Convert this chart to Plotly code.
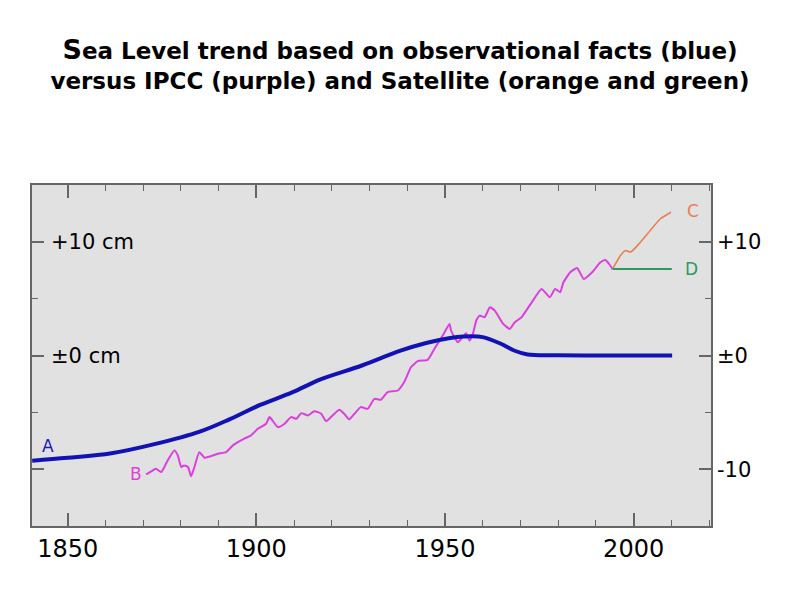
import plotly.graph_objects as go

# Observational (blue) curve A
obs_years = [1840.6, 1850, 1861.6, 1873.0, 1885.0, 1893.0, 1901.0, 1909.5, 1917.0, 1928.0,
             1938.0, 1945.0, 1951.0, 1955.0, 1960.0, 1964.8, 1968.3, 1971.9, 1980, 1990, 2000, 2010.2]
obs_vals = [-9.25, -9.0, -8.6, -7.8, -6.7, -5.6, -4.35, -3.25, -2.1, -0.88,
            0.4, 1.1, 1.52, 1.67, 1.62, 1.03, 0.44, 0.09, 0.02, 0.0, 0.0, 0.0]

# IPCC (purple) curve B
ipcc_years = [1870.8, 1872.6, 1873.4, 1874.8, 1876.5, 1878.3, 1879.2, 1880.1, 1880.9, 1881.9,
              1882.7, 1883.6, 1884.9, 1886.3, 1889.8, 1892.0, 1893.8, 1896.8, 1898.6, 1900.4,
              1902.6, 1903.5, 1905.7, 1907.5, 1909.2, 1910.6, 1911.9, 1913.7, 1915.4, 1917.2,
              1918.5, 1920.2, 1922.0, 1923.3, 1924.6, 1926.0, 1927.7, 1929.5, 1931.3, 1933.0,
              1934.8, 1937.5, 1939.2, 1941.0, 1942.8, 1945.4, 1947.2, 1949.4, 1951.2, 1951.6,
              1952.5, 1953.4, 1954.3, 1955.6, 1956.5, 1957.4, 1958.3, 1959.2, 1960.5, 1961.9,
              1963.2, 1965.4, 1967.2, 1968.5, 1970.3, 1973.0, 1975.6, 1977.8, 1979.2, 1980.5,
              1981.4, 1983.2, 1985.0, 1986.8, 1989.0, 1991.2, 1992.5, 1993.5, 1994.4]
ipcc_vals = [-10.46, -10.1, -9.96, -10.25, -9.23, -8.35, -8.79, -9.81, -9.67, -9.81,
             -10.63, -9.81, -8.5, -8.99, -8.64, -8.5, -7.91, -7.32, -7.03, -6.45,
             -6.0, -5.42, -6.3, -6.0, -5.42, -5.57, -5.07, -5.27, -4.9, -5.13,
             -5.77, -5.27, -4.77, -5.13, -5.62, -5.13, -4.54, -4.69, -3.81, -3.9,
             -3.22, -3.08, -2.34, -1.03, -0.5, -0.38, 0.59, 1.76, 2.78, 2.2,
             1.61, 1.17, 1.47, 1.96, 1.32, 1.91, 3.08, 3.51, 3.37, 4.24,
             3.95, 2.78, 2.34, 2.93, 3.37, 4.68, 5.86, 5.13, 5.86, 5.57,
             6.44, 7.32, 7.7, 6.73, 7.32, 8.2, 8.4, 8.05, 7.6]

# Satellite (orange) curve C
sat_c_years = [1994.4, 1996.5, 1997.8, 1999.2, 2001.8, 2004.4, 2007.1, 2009.9]
sat_c_vals = [7.6, 8.8, 9.24, 9.1, 9.97, 11.0, 12.03, 12.6]

# Satellite (green) curve D
sat_d_years = [1994.4, 2010.1]
sat_d_vals = [7.6, 7.6]

# Axis ticks
x_tick_vals = [1850, 1900, 1950, 2000]
x_tick_text = ["1850", "1900", "1950", "2000"]
yl_tick_vals = [-10, 0, 10]
yl_label_vals = [0, 10]
yl_label_text = ["±0 cm", "+10 cm"]
yr_tick_vals = [-10, 0, 10]
yr_tick_text = ["-10", "±0", "+10"]

# Curve labels
label_text = ["A", "B", "C", "D"]
label_x = [1844.7, 1868.0, 2015.6, 2015.3]
label_y = [-8.0, -10.4, 12.75, 7.6]
label_color = ["#1a1ab4", "#e040d8", "#e8804f", "#2e9a5c"]

BLUE = "#1212b4"
PURPLE = "#dc3ee0"
ORANGE = "#e8804f"
GREEN = "#2e9a5c"
AXC = "#666666"

fig = go.Figure()
fig.add_trace(go.Scatter(x=ipcc_years, y=ipcc_vals, mode="lines",
                         line=dict(color=PURPLE, width=2, shape="spline", smoothing=0.5),
                         hoverinfo="skip"))
fig.add_trace(go.Scatter(x=sat_c_years, y=sat_c_vals, mode="lines",
                         line=dict(color=ORANGE, width=1.6, shape="spline", smoothing=0.5),
                         hoverinfo="skip"))
fig.add_trace(go.Scatter(x=sat_d_years, y=sat_d_vals, mode="lines",
                         line=dict(color=GREEN, width=2), hoverinfo="skip"))
fig.add_trace(go.Scatter(x=obs_years, y=obs_vals, mode="lines",
                         line=dict(color=BLUE, width=4, shape="spline", smoothing=1.0),
                         hoverinfo="skip"))
# invisible traces to carry the extra axes
fig.add_trace(go.Scatter(x=[obs_years[0]], y=[obs_vals[0]], yaxis="y2", mode="markers",
                         marker=dict(opacity=0), hoverinfo="skip"))
fig.add_trace(go.Scatter(x=[obs_years[0]], y=[obs_vals[0]], yaxis="y3", mode="markers",
                         marker=dict(opacity=0), hoverinfo="skip"))

for t, x, y, c in zip(label_text, label_x, label_y, label_color):
    fig.add_annotation(x=x, y=y, text=t, showarrow=False,
                       font=dict(family="DejaVu Sans", size=17, color=c))

fig.update_layout(
    width=794, height=595,
    margin=dict(l=32, r=83, t=185, b=69),
    paper_bgcolor="white",
    plot_bgcolor="#e1e1e1",
    showlegend=False,
    title=dict(
        text="<span style='font-size:27px'>S</span>ea Level trend based on observational facts (blue)<br>"
             "versus IPCC (purple) and Satellite (orange and green)",
        font=dict(family="DejaVu Sans", size=23, color="black", weight="bold"),
        x=400 / 794, xanchor="center", xref="container",
        y=1 - 59 / 595, yanchor="top", yref="container",
    ),
    xaxis=dict(
        range=[1840.55, 2020.5],
        tickvals=x_tick_vals, ticktext=x_tick_text,
        ticks="inside", ticklen=13, tickwidth=1.5, tickcolor=AXC,
        minor=dict(dtick=10, tick0=1850, ticks="inside", ticklen=6, tickwidth=1.2, tickcolor=AXC),
        showline=True, linecolor=AXC, linewidth=1.5, mirror="ticks",
        showgrid=False, zeroline=False, ticklabeloverflow="allow",
        tickfont=dict(family="DejaVu Sans", size=24, color="black"),
    ),
    yaxis=dict(
        range=[-15, 15],
        tickvals=yl_tick_vals, showticklabels=False,
        ticks="inside", ticklen=12, tickwidth=1.5, tickcolor=AXC,
        minor=dict(dtick=5, tick0=0, ticks="inside", ticklen=6, tickwidth=1.2, tickcolor=AXC),
        showline=True, linecolor=AXC, linewidth=1.5,
        showgrid=False, zeroline=False,
    ),
    yaxis3=dict(
        range=[-15, 15], overlaying="y", side="right", anchor="free", position=0,
        tickvals=yl_label_vals, ticktext=yl_label_text,
        ticks="", ticklabelstandoff=18,
        showline=False, showgrid=False, zeroline=False,
        tickfont=dict(family="DejaVu Sans", size=21, color="black"),
    ),
    yaxis2=dict(
        range=[-15, 15], overlaying="y", side="right",
        tickvals=yr_tick_vals, ticktext=yr_tick_text,
        ticks="inside", ticklen=12, tickwidth=1.5, tickcolor=AXC,
        minor=dict(dtick=5, tick0=0, ticks="inside", ticklen=6, tickwidth=1.2, tickcolor=AXC),
        showline=True, linecolor=AXC, linewidth=1.5,
        showgrid=False, zeroline=False,
        tickfont=dict(family="DejaVu Sans", size=21, color="black"),
    ),
)

fig.write_html("out.html")
